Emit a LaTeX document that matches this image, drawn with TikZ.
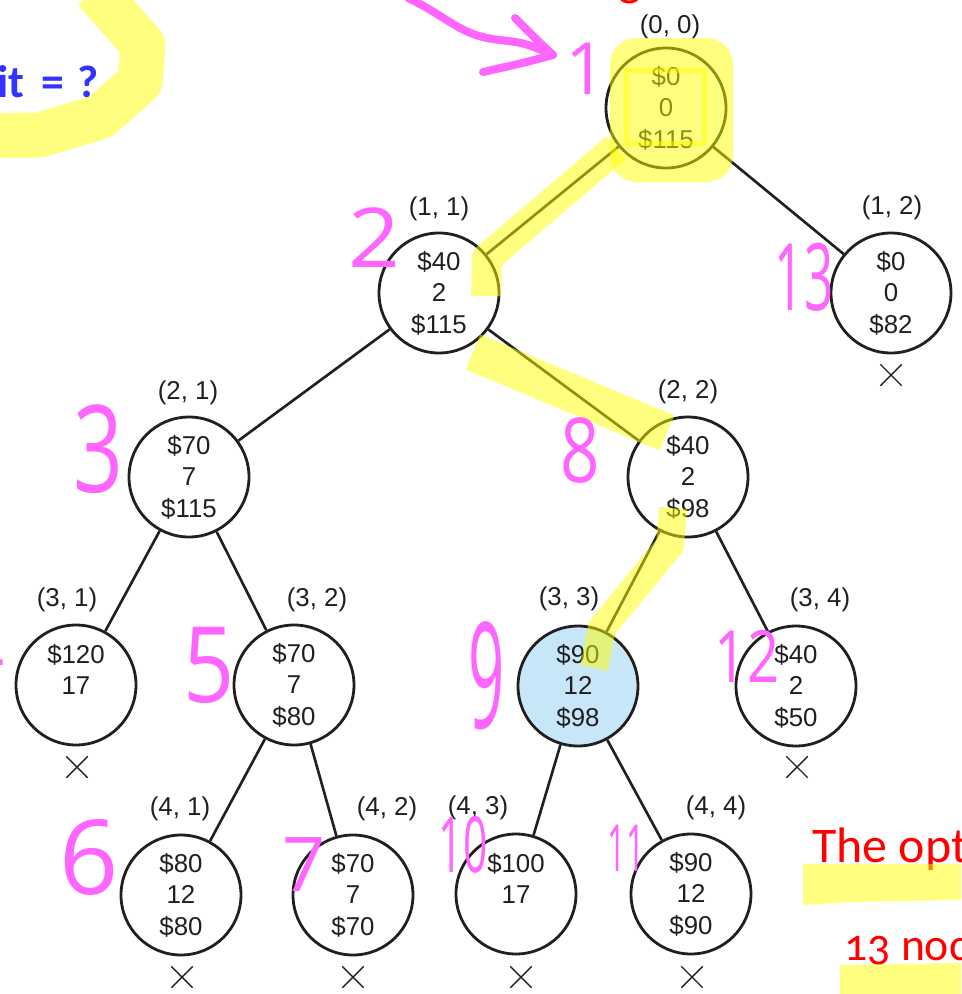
\documentclass[tikz,border=0pt]{standalone}
\usepackage{fontspec}
\setmainfont{Liberation Sans}
\newfontfamily\calfont{Carlito}
\newfontfamily\calnum[Numbers=OldStyle]{Carlito}
\newfontfamily\handfont{Open Sans}
\usetikzlibrary{shapes.misc}
\definecolor{ink}{RGB}{35,31,32}
\definecolor{hl}{RGB}{255,255,0}
\definecolor{pen}{RGB}{255,102,255}
\definecolor{leafblue}{RGB}{199,230,248}
\definecolor{redtext}{RGB}{255,0,0}
\definecolor{bluetext}{RGB}{51,51,255}
\newcommand\nodefont{\fontsize{14.7}{17.9}\selectfont}
\newcommand\hsz[1]{\fontsize{#1}{#1}\selectfont}
\begin{document}
\begin{tikzpicture}[x=0.02cm,y=-0.02cm,
  state/.style={circle,draw=ink,line width=1.6pt,minimum size=2.4cm,inner sep=0pt,align=center,text=ink,font=\nodefont},
  lbl/.style={text=ink,font=\nodefont,inner sep=0pt},
  prune/.style={cross out,draw=ink,line width=0.8pt,minimum size=0.4cm,inner sep=0pt},
  edge/.style={draw=ink,line width=1.5pt},
  marker/.style={draw=hl,opacity=0.5,line join=round},
  markfill/.style={fill=hl,opacity=0.5},
  handnum/.style={text=pen,inner sep=0pt,font=\handfont},
  penline/.style={draw=pen,line width=0.16cm,line cap=round,line join=round},
]
\useasboundingbox (0,0) rectangle (961,994);
\clip (0,0) rectangle (961,994);
\fill[white] (0,0) rectangle (961,994);

% tree nodes
\node[state] (n00) at (666,108) {\$0\\0\\\$115};
\node[state] (n11) at (439,293) {\$40\\2\\\$115};
\node[state] (n12) at (891,293) {\$0\\0\\\$82};
\node[state] (n21) at (189,477) {\$70\\7\\\$115};
\node[state] (n22) at (688,477) {\$40\\2\\\$98};
\node[state] (n31) at (76,685) {\$120\\17\\\rule{0pt}{1pt}};
\node[state] (n32) at (294,685) {\$70\\7\\\$80};
\node[state,fill=leafblue] (n33) at (578,686) {\$90\\12\\\$98};
\node[state] (n34) at (796,686) {\$40\\2\\\$50};
\node[state] (n41) at (181,895) {\$80\\12\\\$80};
\node[state] (n42) at (353,895) {\$70\\7\\\$70};
\node[state] (n43) at (516,894) {\$100\\17\\\rule{0pt}{1pt}};
\node[state] (n44) at (691,894) {\$90\\12\\\$90};

% edges
\draw[edge] (n00) -- (n11);
\draw[edge] (n00) -- (n12);
\draw[edge] (n11) -- (n21);
\draw[edge] (n11) -- (n22);
\draw[edge] (n21) -- (n31);
\draw[edge] (n21) -- (n32);
\draw[edge] (n22) -- (n33);
\draw[edge] (n22) -- (n34);
\draw[edge] (n32) -- (n41);
\draw[edge] (n32) -- (n42);
\draw[edge] (n33) -- (n43);
\draw[edge] (n33) -- (n44);

% level labels
\node[lbl] (l00) at (670,27) {(0, 0)};
\node[lbl] (l11) at (439,209) {(1, 1)};
\node[lbl] (l12) at (892,208) {(1, 2)};
\node[lbl] (l21) at (188,393) {(2, 1)};
\node[lbl] (l22) at (688,392) {(2, 2)};
\node[lbl] (l31) at (67,600) {(3, 1)};
\node[lbl] (l32) at (317,600) {(3, 2)};
\node[lbl] (l33) at (569,599) {(3, 3)};
\node[lbl] (l34) at (820,600) {(3, 4)};
\node[lbl] (l41) at (180,809) {(4, 1)};
\node[lbl] (l42) at (387,809) {(4, 2)};
\node[lbl] (l43) at (478,808) {(4, 3)};
\node[lbl] (l44) at (716,808) {(4, 4)};

% pruned marks
\node[prune] (x12) at (891,375) {};
\node[prune] (x31) at (77,767) {};
\node[prune] (x34) at (797,767) {};
\node[prune] (x41) at (182,977) {};
\node[prune] (x42) at (353,977) {};
\node[prune] (x43) at (521,977) {};
\node[prune] (x44) at (692,977) {};

% slide texts (cut off by the frame)
\node[anchor=base west,inner sep=0pt,text=bluetext,font=\calfont\bfseries\fontsize{26}{28}\selectfont] (q) at (-3,97) {it\hspace{0.34cm}=\hspace{0.26cm}?};
\node[anchor=base,inner sep=0pt,text=redtext,font=\calfont\fontsize{28}{30}\selectfont] (topg) at (630,-5) {g};
\node[anchor=base west,inner sep=0pt,text=redtext,font=\calfont\fontsize{28.4}{30}\selectfont] (opt) at (812,862) {The opt};
\node[anchor=base west,inner sep=0pt,text=redtext,font=\calnum\fontsize{26}{28}\selectfont] (cnt) at (844,960) {13 noc};

% yellow highlights
\fill[markfill,rounded corners=15] (610,38) rectangle (733,182);
\draw[marker,line width=0.1cm] (626,70) rectangle (704,143);
\draw[marker,line width=0.6cm] (616,148) -- (487,258) -- (486,296);
\draw[marker,line width=0.76cm] (473,352) -- (667,433);
\draw[marker,line width=0.56cm] (673,508) -- (670,545) -- (602,628) -- (594,668);
\draw[marker,line width=0.9cm] (95,-10) -- (143,45) -- (140,82) -- (100,117) -- (40,135) -- (-10,136);
\fill[markfill] (803,864) -- (961,864) -- (961,900) -- (850,902) -- (803,905) -- cycle;
\fill[markfill] (840,965) -- (961,963) -- (961,994) -- (840,994) -- cycle;

% pink hand annotations
\draw[penline] (408,-2) .. controls (450,18) and (460,36) .. (500,40) .. controls (525,43) .. (553,55);
\draw[penline] (515,18) .. controls (537,40) .. (553,55) .. controls (523,63) .. (483,72);
\node[handnum] (h1) at (586,69) {\hsz{41}1};
\node[handnum] (h2) at (374,238) {\hsz{47}\scalebox{1.1}[1]{2}};
\node[handnum] (h13) at (804,277) {\hsz{53}\scalebox{0.55}[1]{13}};
\node[handnum] (h3) at (98,449) {\hsz{69}\scalebox{0.72}[1]{3}};
\node[handnum] (h8) at (580,450) {\hsz{51}\scalebox{0.77}[1]{8}};
\node[handnum] (h4) at (-18,650) {\hsz{45}4};
\node[handnum] (h5) at (209,665) {\hsz{60}\scalebox{0.85}[1]{5}};
\node[handnum] (h9) at (487,676) {\hsz{84}\scalebox{0.43}[1]{9}};
\node[handnum] (h12) at (747,656) {\hsz{41}\scalebox{0.78}[1]{12}};
\node[handnum] (h6) at (89,857) {\hsz{59}6};
\node[handnum] (h7) at (304,865) {\hsz{43}7};
\node[handnum] (h10) at (463,845) {\hsz{44}\scalebox{0.55}[1]{10}};
\node[handnum] (h11) at (626,848) {\hsz{37}\scalebox{0.5}[1]{11}};
\end{tikzpicture}
\end{document}
